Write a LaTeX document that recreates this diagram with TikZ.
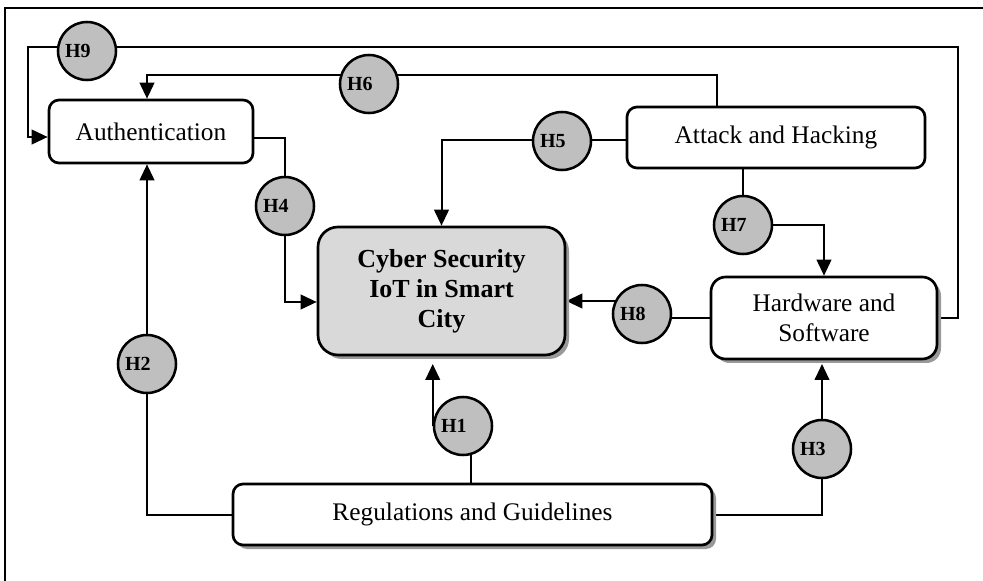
\documentclass[tikz,border=0pt]{standalone}
\usepackage{fontspec}
\setmainfont{Liberation Serif}
\usetikzlibrary{arrows.meta,shadows,backgrounds}

\tikzset{every picture/.style={line width=0.75pt}}
\tikzset{
  box/.style={draw, rounded corners=7.5pt, line width=2pt, fill=white, align=center, inner sep=0pt, font=\fontsize{19}{22}\selectfont},
  boxshadow/.style={drop shadow={shadow xshift=3pt, shadow yshift=-3pt, fill=black!40, opacity=1}},
  hub/.style={circle, draw, line width=1.9pt, fill=black!25, minimum size=43.5pt, inner sep=0pt, text width=33pt, align=left, font=\bfseries\fontsize{15}{15}\selectfont},
  link/.style={line width=1.5pt},
  arrow/.style={link, -{Triangle[length=12pt,width=11pt]}},
}

\begin{document}
\begin{tikzpicture}[x=0.75pt,y=0.75pt,yscale=-1,xscale=1]
\useasboundingbox (0,0) rectangle (983,581);

%Frame
\draw [line width=1.5pt] (5,581) -- (5,8) -- (983,8) ;

%Boxes
\node [box, minimum width=153pt, minimum height=47.25pt] (auth) at (151,131.5) {Authentication};
\node [box, minimum width=223.5pt, minimum height=45.75pt] (attack) at (776,137.5) {Attack and Hacking};
\node [box, boxshadow, rounded corners=15pt, fill=black!15, minimum width=185.25pt, minimum height=96pt, font=\bfseries\fontsize{19.5}{22.5}\selectfont] (cyber) at (441.5,291) {Cyber Security\\IoT in Smart\\City};
\node [box, boxshadow, rounded corners=11pt, minimum width=169.5pt, minimum height=61.5pt] (hw) at (824,318) {Hardware and\\Software};
\node [box, boxshadow, minimum width=359.25pt, minimum height=45.75pt] (regs) at (472.5,514.5) {Regulations and Guidelines};

%Hypotheses
\node [hub] (h1) at (463,426) {H1};
\node [hub] (h2) at (147,364) {H2};
\node [hub] (h3) at (822,449) {H3};
\node [hub] (h4) at (285,206) {H4};
\node [hub] (h5) at (562,141) {H5};
\node [hub] (h6) at (369,84) {H6};
\node [hub] (h7) at (743,225) {H7};
\node [hub] (h8) at (642,314) {H8};
\node [hub] (h9) at (87,51) {H9};

%Connectors
\begin{scope}[on background layer]
\draw [link] (hw.east) -| (958,47) -- (h9 |- 0,47) ;
\draw [arrow] (h9 |- 0,47) -| (28,137) -- (auth.west |- 0,137) ;

\draw [link] (717,0 |- attack.north) |- (h6 |- 0,75) ;
\draw [arrow] (h6 |- 0,75) -| (147,0 |- auth.north) ;

\draw [link] (attack.west |- 0,140) -- (h5 |- 0,140) ;
\draw [arrow] (h5 |- 0,140) -| (cyber.north) ;

\draw [link] (auth.east |- 0,138) -| (h4) ;
\draw [arrow] (h4) |- (cyber.west |- 0,302) ;

\draw [link] (attack.south -| h7) -- (h7) ;
\draw [arrow] (h7) -| (hw.north) ;

\draw [link] (hw.west) -- (h8 |- hw.west) ;
\draw [arrow] (h8 |- 0,301) -- (cyber.east |- 0,301) ;

\draw [link] (471,0 |- regs.north) -- (471,0 |- h1) ;
\draw [arrow] (h1.west) -- (h1.west |- 0,364) ;

\draw [link] (regs.west) -| (h2) ;
\draw [arrow] (h2) -- (h2 |- auth.south) ;

\draw [link] (regs.east) -| (h3) ;
\draw [arrow] (h3) -- (h3 |- 0,364) ;
\end{scope}

\end{tikzpicture}
\end{document}
